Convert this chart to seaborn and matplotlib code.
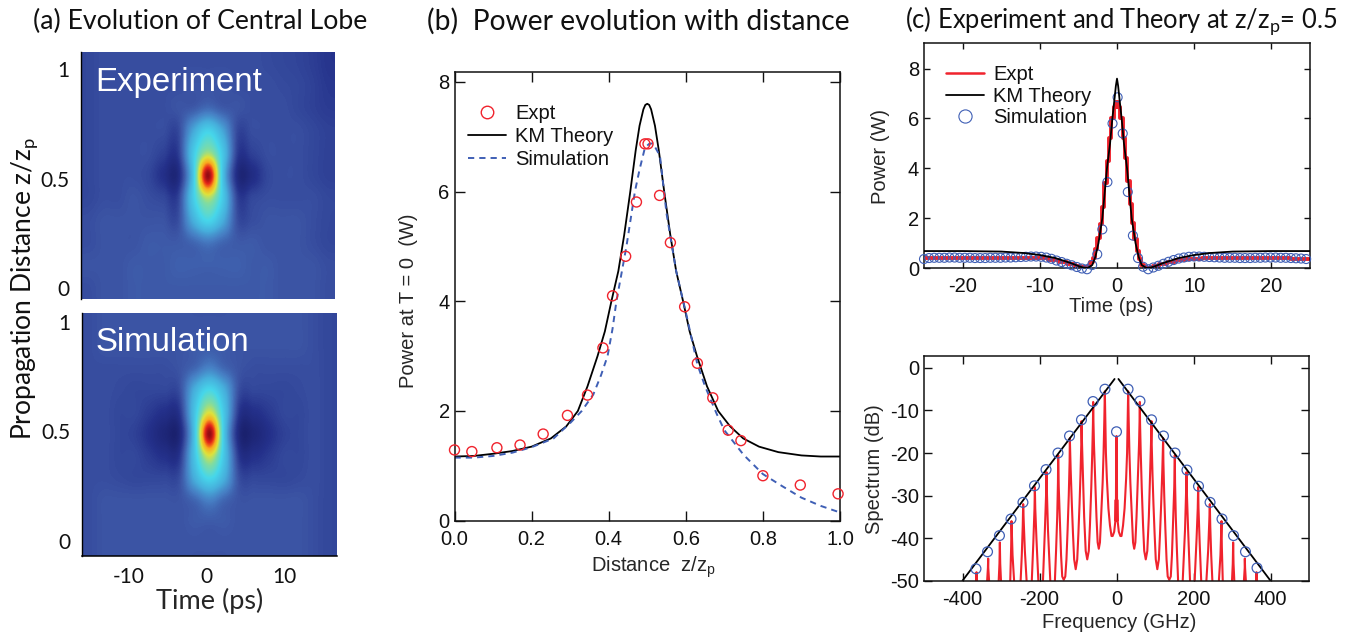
import numpy as np
import matplotlib
matplotlib.use("Agg")
import matplotlib.pyplot as plt
from matplotlib.colors import LinearSegmentedColormap
from matplotlib.lines import Line2D
from matplotlib.transforms import Affine2D
import seaborn as sns

# ---------- panel (a): central-lobe maps (rows run from top to bottom, coarse read-off) ----------
exp_map = [
 [.11,.12,.12,.12,.12,.12,.12,.12,.12,.12,.12,.12,.115,.11,.105,.095,.08],
 [.11,.12,.12,.12,.12,.12,.12,.13,.13,.13,.12,.12,.12,.115,.11,.10,.085],
 [.11,.12,.12,.12,.12,.12,.13,.14,.17,.14,.13,.12,.12,.12,.11,.10,.09],
 [.11,.12,.12,.12,.12,.12,.11,.28,.40,.28,.11,.12,.12,.12,.12,.11,.10],
 [.11,.12,.12,.12,.12,.10,.09,.37,.58,.37,.09,.10,.12,.12,.12,.11,.10],
 [.11,.12,.12,.12,.11,.07,.05,.36,1.0,.36,.05,.06,.11,.12,.12,.11,.10],
 [.11,.12,.12,.13,.12,.11,.10,.38,.60,.38,.10,.11,.12,.12,.12,.12,.11],
 [.12,.13,.13,.13,.13,.13,.12,.30,.42,.30,.12,.12,.13,.13,.13,.12,.11],
 [.12,.13,.13,.13,.14,.14,.14,.16,.19,.16,.14,.14,.13,.13,.13,.12,.11],
 [.13,.13,.13,.14,.14,.14,.15,.15,.15,.15,.15,.14,.14,.13,.13,.13,.12],
 [.12,.13,.13,.14,.14,.14,.14,.14,.14,.14,.14,.14,.14,.13,.13,.13,.12],
]
sim_map = [
 [.12,.13,.13,.13,.13,.13,.13,.13,.13,.13,.13,.13,.13,.13,.13,.12,.11],
 [.12,.13,.13,.13,.13,.13,.13,.14,.14,.14,.13,.13,.13,.13,.13,.12,.11],
 [.12,.12,.12,.12,.12,.12,.13,.16,.21,.16,.13,.12,.12,.12,.12,.12,.11],
 [.12,.12,.115,.11,.11,.11,.12,.30,.42,.30,.12,.11,.11,.11,.115,.12,.11],
 [.12,.12,.11,.11,.09,.07,.08,.36,.64,.36,.08,.07,.09,.11,.11,.12,.11],
 [.12,.12,.11,.10,.07,.035,.04,.36,1.0,.36,.04,.035,.07,.10,.11,.12,.11],
 [.12,.12,.11,.11,.09,.07,.08,.36,.64,.36,.08,.07,.09,.11,.11,.12,.11],
 [.12,.12,.115,.11,.11,.11,.12,.30,.42,.30,.12,.11,.11,.11,.115,.12,.11],
 [.12,.13,.13,.13,.13,.13,.13,.16,.21,.16,.13,.13,.13,.13,.13,.12,.11],
 [.12,.13,.13,.13,.13,.13,.13,.14,.14,.14,.13,.13,.13,.13,.13,.12,.11],
 [.12,.13,.13,.13,.13,.13,.13,.13,.13,.13,.13,.13,.13,.13,.13,.12,.11],
]
map_ticks_z = [0, 0.5, 1]
map_ticks_z_labels = ["0", "0.5", "1"]
map_ticks_t = [-10, 0, 10]

# ---------- panel (b) ----------
b_expt_z = [0.0,0.045,0.11,0.17,0.23,0.293,0.345,0.385,0.41,0.444,0.472,0.494,0.502,0.532,0.56,0.597,0.63,0.67,0.71,0.743,0.80,0.897,0.995]
b_expt_p = [1.29,1.26,1.33,1.38,1.58,1.92,2.29,3.15,4.10,4.82,5.81,6.87,6.87,5.93,5.07,3.90,2.87,2.24,1.65,1.46,0.82,0.65,0.49]
b_km_z = [0.0,0.05,0.1,0.15,0.2,0.25,0.29,0.32,0.345,0.371,0.39,0.407,0.425,0.44,0.456,0.47,0.48,0.49,0.495,0.5,
          0.505,0.51,0.52,0.53,0.544,0.56,0.575,0.593,0.61,0.629,0.655,0.684,0.715,0.749,0.79,0.84,0.9,0.95,1.0]
b_km_p = [1.17,1.18,1.22,1.27,1.35,1.5,1.72,2.0,2.45,3.0,3.45,4.0,4.55,5.2,6.0,6.75,7.2,7.5,7.58,7.6,
          7.58,7.5,7.2,6.75,6.0,5.2,4.55,4.0,3.45,3.0,2.45,2.0,1.72,1.5,1.35,1.25,1.19,1.17,1.17]
b_sim_z = [0.0,0.05,0.1,0.15,0.2,0.257,0.3,0.33,0.36,0.38,0.397,0.41,0.42,0.433,0.446,0.457,0.468,0.48,0.494,0.505,0.515,0.533,0.55,0.575,0.6,0.63,0.65,0.68,0.7,0.75,0.8,0.85,0.9,0.95,1.0]
b_sim_p = [1.15,1.15,1.18,1.24,1.34,1.5,1.78,2.0,2.3,2.65,3.0,3.5,4.0,4.5,5.0,5.5,6.0,6.4,6.8,6.87,6.88,6.65,5.6,4.55,3.8,2.85,2.45,1.95,1.65,1.2,0.85,0.63,0.42,0.27,0.15]
b_xticks = [0.0,0.2,0.4,0.6,0.8,1.0]
b_yticks = [0,2,4,6,8]

# ---------- panel (c) top ----------
c1_expt_t = [-25,-20,-15,-12,-10,-8,-7,-6,-5,-4.4,-4,-3.6,-3.3,-3,-2.7,-2.4,-2.1,-1.8,-1.5,-1.2,-.9,-.6,-.3,0,.3,.6,.9,1.2,1.5,1.8,2.1,2.4,2.7,3,3.3,3.6,4,4.4,5,6,7,8,10,12,15,20,25]
c1_expt_p = [.42,.40,.40,.42,.40,.32,.25,.16,.08,.03,.02,.08,.25,.42,.75,1.2,1.75,2.45,3.4,4.3,5.2,6.0,6.45,6.65,6.45,6.0,5.2,4.4,3.5,2.55,1.8,1.15,.7,.35,.14,.03,.0,.02,.08,.16,.25,.32,.38,.4,.42,.40,.35]
c1_km_t = [-25,-20,-15,-12,-10,-8,-6,-5,-4.4,-3.8,-3.2,-2.8,-2.4,-1.9,-1.6,-1.3,-.9,-.6,-.3,-.15,0,.15,.3,.6,.9,1.3,1.6,1.9,2.4,2.8,3.2,3.8,4.4,5,6,8,10,12,15,20,25]
c1_km_p = [.68,.68,.66,.6,.52,.4,.2,.08,.02,.0,.12,.45,1.0,2.0,3.0,4.0,5.0,6.0,6.85,7.3,7.6,7.3,6.85,6.0,5.0,4.0,3.0,2.0,1.0,.45,.12,.0,.02,.08,.2,.4,.52,.6,.66,.68,.68]
c1_sim_t = [-25,-24.34,-23.68,-23.02,-22.36,-21.7,-21.04,-20.38,-19.72,-19.06,-18.4,-17.74,-17.08,-16.42,-15.76,-15.1,-14.44,-13.78,-13.12,-12.46,-11.8,-11.14,-10.48,-9.82,-9.16,-8.5,-7.84,-7.18,-6.52,-5.86,-5.2,-4.54,-3.88,-3.22,-2.56,-1.9,-1.24,-.58,.08,
            .74,1.4,2.06,2.72,3.38,4.04,4.7,5.36,6.02,6.68,7.34,8,8.66,9.32,9.98,10.64,11.3,11.96,12.62,13.28,13.94,14.6,15.26,15.92,16.58,17.24,17.9,18.56,19.22,19.88,20.54,21.2,21.86,22.52,23.18,23.84,24.5]
c1_sim_p = [.36,.40,.41,.41,.41,.42,.42,.41,.41,.41,.40,.40,.40,.41,.41,.41,.42,.42,.43,.44,.45,.46,.46,.45,.42,.37,.30,.24,.17,.11,.04,-.02,-.05,.12,.55,1.55,3.45,5.8,6.85,
            5.4,3.05,1.3,.4,.05,-.05,.02,.09,.17,.25,.32,.38,.42,.45,.46,.46,.45,.44,.43,.42,.41,.41,.41,.40,.40,.40,.41,.41,.42,.42,.42,.41,.41,.40,.39,.38,.36]
c1_xticks = [-20,-10,0,10,20]
c1_yticks = [0,2,4,6,8]

# ---------- panel (c) bottom ----------
c2_env_left_f = [-400,-5]
c2_env_left_p = [-50,-2.6]
c2_env_right_f = [5,400]
c2_env_right_p = [-2.6,-50]
c2_sim_f = [-365,-335,-304,-274,-243,-213,-183,-152,-122,-91,-61,-30,0,30,61,91,122,152,183,213,243,274,304,335,365]
c2_sim_p = [-47.2,-43.2,-39.4,-35.5,-31.6,-27.7,-23.9,-20,-16,-12.2,-7.9,-5,-15,-5,-7.8,-12.2,-16,-20,-24,-27.8,-31.6,-35.5,-39.4,-43.2,-47]
c2_red_f_half = [0,.4,.8,1.2,1.6,2,3,6,10,13,17,21,25,27.5,29,30.3,
                 31.6,33.6,36,40,43,46,49,52,55.5,58.5,60,60.6,
                 61.2,63,65.5,69,72,76,80,84,87,89.5,90.9,
                 91.5,93.5,96,99,102,106,110,113,116,119,121.2,
                 121.8,124,127,130,133,137,141,144,147,150,151.5,
                 152.1,154,157,160,163,168,172,178,180.5,181.8,
                 183,186,191,195,199,203,208,211,212.1,
                 213,216,220,225,229,233.5,238,241,242.4,
                 243.5,246,249,255,262,266,270,272.7,
                 273.6,276,280,292,300,302,303,
                 304,306,310,322,331,333,333.3,
                 334,336,340,352,363,363.6,364.3,368,400]
c2_red_p_half = [-16,-28,-32,-27,-36,-31,-36,-38.5,-39.5,-39.5,-37,-33,-26,-20,-12,-5.5,
                 -12,-20,-27,-35,-41,-42.5,-41,-35,-26,-18,-12,-8,
                 -13,-20,-28,-37,-43,-45,-43,-35,-26,-18,-12.5,
                 -18,-25,-32,-39,-45,-47.3,-45,-39,-32,-24,-16.5,
                 -22,-30,-38,-45,-49,-49.8,-49,-44,-36,-28,-20.5,
                 -27,-35,-43,-50,-52,-52,-50,-38,-30,-24.5,
                 -30,-38,-50,-54,-54,-50,-40,-33,-28,
                 -33,-41,-50,-55,-55,-50,-43,-36,-32,
                 -37,-44,-50,-56,-56,-50,-44,-36,
                 -42,-50,-56,-56,-50,-46,-41,
                 -46,-50,-56,-56,-50,-47,-44.8,
                 -47,-50,-56,-56,-50,-48,-50,-56,-56]
c2_xticks = [-400,-200,0,200,400]
c2_yticks = [0,-10,-20,-30,-40,-50]

RED = "#f0232d"
BLUE = "#3f5fb5"
W, H = 1356, 637

sns.set_theme(style="white", rc={"axes.edgecolor": "#111111", "axes.linewidth": 1.1})
plt.rcParams["font.family"] = ["Liberation Sans", "DejaVu Sans"]
plt.rcParams["mathtext.default"] = "regular"
plt.rcParams["axes.unicode_minus"] = False
plt.rcParams["text.color"] = "#111111"
plt.rcParams["xtick.color"] = "#111111"
plt.rcParams["ytick.color"] = "#111111"

fig = plt.figure(figsize=(W / 100, H / 100), dpi=100, facecolor="white")
px = Affine2D().scale(1 / W, -1 / H).translate(0, 1) + fig.transFigure


def axes_px(l, t, r, b):
    return fig.add_axes([l / W, 1 - b / H, (r - l) / W, (b - t) / H])


def frame(ax, xt, yt, xl, yl, tick_len, xpad=6.5, ypad=3.5):
    ax.set_xlim(*xl)
    ax.set_ylim(*yl)
    ax.set_xticks(xt)
    ax.set_yticks(yt)
    ax.tick_params(axis="both", which="major", direction="in", top=True, right=True, bottom=True, left=True,
                   length=tick_len, width=1.0, labelsize=14.5)
    ax.tick_params(axis="x", pad=xpad)
    ax.tick_params(axis="y", pad=ypad)
    for s in ax.spines.values():
        s.set_visible(True)
        s.set_linewidth(1.1)
    ax.grid(False)


def set_labels(ax, xlabel, xpos, ylabel, ypos, size=14.5):
    ax.set_xlabel(xlabel, fontsize=size, va="center", ha="center")
    ax.xaxis.set_label_coords(*xpos, transform=px)
    ax.set_ylabel(ylabel, fontsize=size, va="center", ha="center")
    ax.yaxis.set_label_coords(*ypos, transform=px)


# ---- panel (a) ----
cm_colors = [(0.0, (25, 30, 105)), (.07, (36, 48, 138)), (.13, (60, 85, 165)), (.2, (70, 125, 195)),
             (.3, (70, 175, 220)), (.42, (70, 215, 235)), (.54, (130, 220, 160)), (.65, (222, 226, 60)),
             (.78, (250, 170, 30)), (.9, (230, 40, 25)), (1.0, (150, 10, 20))]
cmap = LinearSegmentedColormap.from_list("lobe", [(p, tuple(c / 255 for c in rgb)) for p, rgb in cm_colors])

LATO = ["Lato", "DejaVu Sans"]
ax_exp = axes_px(81, 52, 335, 299)
ax_exp.imshow(np.array(exp_map), cmap=cmap, vmin=0, vmax=1, aspect="auto", interpolation="catrom",
              extent=[-16, 16.4, -0.05, 1.08], origin="upper")
ax_sim = axes_px(82, 313, 337, 556)
ax_sim.imshow(np.array(sim_map), cmap=cmap, vmin=0, vmax=1, aspect="auto", interpolation="catrom",
              extent=[-16, 16.7, -0.07, 1.04], origin="upper")
for ax, name in [(ax_exp, "Experiment"), (ax_sim, "Simulation")]:
    ax.set_yticks(map_ticks_z)
    ax.set_yticklabels(map_ticks_z_labels, family=LATO, fontsize=15)
    ax.set_xticks(map_ticks_t)
    ax.tick_params(length=0, pad=8, bottom=False, left=False)
    ax.grid(False)
    for k in ("top", "right", "bottom"):
        ax.spines[k].set_visible(False)
    ax.spines["left"].set_visible(True)
    ax.spines["left"].set_color("black")
    ax.spines["left"].set_linewidth(1.0)
    ax.text(0.055, 0.877, name, transform=ax.transAxes, color="white", fontsize=23.8, va="center", ha="left")
ax_exp.set_xticklabels([])
ax_sim.set_xticklabels(["-10", "0", "10"], family=LATO, fontsize=15)
ax_sim.spines["bottom"].set_visible(True)
ax_sim.spines["bottom"].set_color("black")
ax_sim.set_xlabel("Time (ps)", family=LATO, fontsize=19.5, va="center", ha="center")
ax_sim.xaxis.set_label_coords(210, 601, transform=px)
fig.text(25 / W, 1 - 288 / H, "Propagation Distance z/z$_{p}$", rotation=90, family=LATO, fontsize=19,
         va="center", ha="center")

# ---- panel (b) ----
ax_b = axes_px(454.5, 72, 840, 520.7)
sns.lineplot(x=b_km_z, y=b_km_p, ax=ax_b, color="black", lw=1.3, estimator=None, errorbar=None, sort=False, legend=False)
sns.lineplot(x=b_sim_z, y=b_sim_p, ax=ax_b, color=BLUE, lw=1.4, dashes=(3.2, 2.6), estimator=None, errorbar=None, sort=False, legend=False)
sns.scatterplot(x=b_expt_z, y=b_expt_p, ax=ax_b, marker="o", s=52, facecolors="none", edgecolor=RED, linewidth=1.0,
                clip_on=False, zorder=5, legend=False)
frame(ax_b, b_xticks, b_yticks, (0, 1), (0, 8.18), 7)
set_labels(ax_b, "Distance  z/z$_{p}$", (653, 567), "Power at T = 0  (W)", (408, 301))
ax_b.legend(handles=[
    Line2D([], [], marker="o", ls="none", mfc="none", mec=RED, mew=1.0, ms=9, label="Expt"),
    Line2D([], [], color="black", lw=1.3, label="KM Theory"),
    Line2D([], [], color=BLUE, lw=1.4, dashes=(3.2, 2.6), label="Simulation")],
    loc="upper left", bbox_to_anchor=(0.035, 0.929), frameon=False, fontsize=14.5, labelspacing=0.2,
    handlelength=1.9, handletextpad=0.45, borderpad=0, borderaxespad=0)

# ---- panel (c) top ----
ax_c1 = axes_px(924, 43, 1310, 268)
sns.lineplot(x=c1_expt_t, y=c1_expt_p, ax=ax_c1, color=RED, lw=2.8, drawstyle="steps-mid", estimator=None, errorbar=None, sort=False, legend=False)
sns.scatterplot(x=c1_sim_t, y=c1_sim_p, ax=ax_c1, marker="o", s=42, facecolors="none", edgecolor=BLUE, linewidth=0.8,
                clip_on=False, zorder=4, legend=False)
sns.lineplot(x=c1_km_t, y=c1_km_p, ax=ax_c1, color="black", lw=1.3, estimator=None, errorbar=None, sort=False, legend=False, zorder=5)
frame(ax_c1, c1_xticks, c1_yticks, (-25, 25), (0, 9.03), 4.5)
set_labels(ax_c1, "Time (ps)", (1111, 307), "Power (W)", (881, 156))
ax_c1.legend(handles=[
    Line2D([], [], color=RED, lw=1.8, label="Expt"),
    Line2D([], [], color="black", lw=1.3, label="KM Theory"),
    Line2D([], [], marker="o", ls="none", mfc="none", mec=BLUE, mew=0.8, ms=9.5, label="Simulation")],
    loc="upper left", bbox_to_anchor=(0.057, 0.9), frameon=False, fontsize=14.5, labelspacing=0.12,
    handlelength=1.9, handletextpad=0.45, borderpad=0, borderaxespad=0)

# ---- panel (c) bottom ----
ax_c2 = axes_px(924, 356, 1309, 580.7)
f_half = np.array(c2_red_f_half)
p_half = np.array(c2_red_p_half)
red_f = np.concatenate([-f_half[:0:-1], f_half])
red_p = np.concatenate([p_half[:0:-1], p_half])
sns.lineplot(x=red_f, y=red_p, ax=ax_c2, color=RED, lw=1.5, estimator=None, errorbar=None, sort=False, legend=False)
sns.lineplot(x=c2_env_left_f, y=c2_env_left_p, ax=ax_c2, color="black", lw=1.3, estimator=None, errorbar=None, sort=False, legend=False)
sns.lineplot(x=c2_env_right_f, y=c2_env_right_p, ax=ax_c2, color="black", lw=1.3, estimator=None, errorbar=None, sort=False, legend=False)
sns.scatterplot(x=c2_sim_f, y=c2_sim_p, ax=ax_c2, marker="o", s=50, facecolors="none", edgecolor=BLUE, linewidth=0.9,
                clip_on=False, zorder=5, legend=False)
frame(ax_c2, c2_xticks, c2_yticks, (-500, 500), (-50, 2.8), 5.5)
set_labels(ax_c2, "Frequency (GHz)", (1119, 622), "Spectrum (dB)", (875, 469))

# ---- panel titles ----
fig.text(33 / W, 1 - 21 / H, "(a) Evolution of Central Lobe", family=LATO, fontsize=19.2, va="center", ha="left")
fig.text(427 / W, 1 - 21 / H, "(b)  Power evolution with distance", family=LATO, fontsize=20.3, va="center", ha="left")
fig.text(905 / W, 1 - 21 / H, "(c) Experiment and Theory at z/z$_{p}$= 0.5", family=LATO, fontsize=18.4, va="center", ha="left")

fig.savefig("out.png", dpi=100, facecolor="white")
